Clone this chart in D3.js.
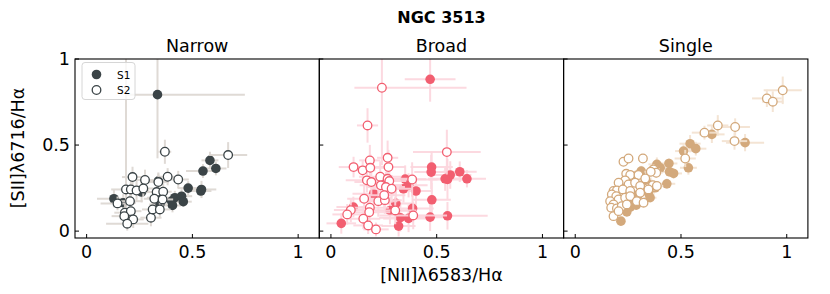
<!DOCTYPE html>
<html>
<head>
<meta charset="utf-8">
<script src="https://cdn.jsdelivr.net/npm/d3@7"></script>
<style>
  body { margin: 0; background: #fff; }
  text { font-family: "DejaVu Sans", sans-serif; }
</style>
</head>
<body>
<div id="cont"></div>
<script>
// [x, y, xerr, yerr]; err is a number or [lo, hi]
var narrowS1 = [
  [0.335, 0.793, [0.145, 0.413], 0.37], [0.583, 0.411, 0.04, 0.05], [0.550, 0.349, 0.08, 0.04],
  [0.611, 0.364, 0.05, 0.04], [0.480, 0.250, 0.05, 0.04], [0.543, 0.242, 0.07, 0.05],
  [0.540, 0.233, 0.05, 0.03], [0.129, 0.188, 0.08, 0.05], [0.173, 0.165, 0.06, 0.05],
  [0.260, 0.227, 0.07, 0.06], [0.339, 0.291, 0.05, 0.05], [0.402, 0.174, 0.04, 0.04],
  [0.417, 0.194, 0.04, 0.04], [0.449, 0.203, 0.05, 0.04], [0.457, 0.171, 0.04, 0.03],
  [0.406, 0.149, 0.04, 0.04], [0.346, 0.155, 0.05, 0.04], [0.335, 0.194, 0.05, 0.05]
];
var narrowS2 = [
  [0.370, 0.461, 0.03, 0.07], [0.669, 0.442, 0.09, 0.075], [0.217, 0.314, 0.05, 0.06],
  [0.276, 0.297, 0.05, 0.06], [0.339, 0.285, 0.05, 0.05], [0.383, 0.316, 0.04, 0.05],
  [0.433, 0.300, 0.05, 0.05], [0.186, 0.242, 0.07, [0.16, 0.8]], [0.209, 0.242, 0.05, 0.05],
  [0.236, 0.236, 0.06, 0.06], [0.268, 0.248, 0.05, 0.05], [0.331, 0.227, 0.06, 0.05],
  [0.362, 0.229, 0.04, 0.05], [0.146, 0.161, 0.08, 0.04], [0.205, 0.174, 0.06, 0.06],
  [0.320, 0.188, 0.05, 0.05], [0.359, 0.184, 0.05, 0.04], [0.181, 0.107, 0.05, 0.05],
  [0.209, 0.116, 0.05, 0.06], [0.178, 0.087, 0.06, 0.05], [0.220, 0.068, 0.05, 0.05],
  [0.192, 0.043, 0.10, 0.04], [0.304, 0.078, 0.05, 0.05], [0.312, 0.126, 0.05, 0.05],
  [0.346, 0.126, 0.05, 0.05]
];
var broadS1 = [
  [0.469, 0.882, 0.12, 0.13], [0.476, 0.372, 0.10, 0.09], [0.474, 0.343, 0.08, 0.10],
  [0.609, 0.345, 0.08, 0.06], [0.564, 0.326, 0.10, 0.08], [0.551, 0.300, 0.09, 0.12],
  [0.540, 0.304, 0.08, 0.07], [0.643, 0.304, 0.09, 0.05], [0.351, 0.302, 0.10, 0.08],
  [0.343, 0.246, 0.08, 0.08], [0.367, 0.266, 0.09, 0.07], [0.402, 0.233, 0.08, 0.08],
  [0.202, 0.217, 0.10, 0.10], [0.477, 0.182, 0.09, 0.10], [0.307, 0.161, 0.08, 0.08],
  [0.279, 0.120, 0.10, 0.08], [0.386, 0.132, 0.10, 0.08], [0.328, 0.078, 0.10, 0.08],
  [0.367, 0.074, 0.12, 0.08], [0.469, 0.081, 0.10, 0.08], [0.551, 0.089, 0.19, 0.08],
  [0.320, 0.029, 0.08, 0.06], [0.106, 0.140, 0.08, 0.06], [0.049, 0.045, 0.07, 0.06]
];
var broadS2 = [
  [0.241, 0.833, [0.13, 0.40], [0.45, 0.3]], [0.173, 0.614, 0.05, 0.10], [0.548, 0.459, 0.16, 0.13],
  [0.268, 0.426, 0.05, 0.10], [0.184, 0.411, 0.05, 0.09], [0.272, 0.372, 0.08, 0.10],
  [0.107, 0.372, 0.07, 0.06], [0.150, 0.353, 0.06, 0.06], [0.186, 0.368, 0.08, 0.08],
  [0.170, 0.295, 0.10, 0.07], [0.191, 0.285, 0.08, 0.08], [0.233, 0.316, 0.10, 0.09],
  [0.268, 0.304, 0.10, 0.08], [0.276, 0.291, 0.08, 0.07], [0.236, 0.266, 0.10, 0.08],
  [0.260, 0.256, 0.09, 0.09], [0.287, 0.246, 0.10, 0.08], [0.384, 0.300, 0.12, 0.10],
  [0.157, 0.188, 0.08, 0.08], [0.224, 0.174, 0.09, 0.09], [0.255, 0.180, 0.08, 0.08],
  [0.252, 0.209, 0.10, 0.08], [0.184, 0.136, 0.09, 0.08], [0.181, 0.110, 0.10, 0.09],
  [0.094, 0.122, 0.08, 0.07], [0.077, 0.097, 0.07, 0.06], [0.304, 0.120, 0.10, 0.08],
  [0.389, 0.091, 0.16, 0.08], [0.153, 0.072, 0.08, 0.06], [0.176, 0.033, 0.07, 0.05],
  [0.213, 0.010, 0.06, 0.04]
];
var singleS1 = [
  [0.216, 0.058, 0.02, 0.02], [0.244, 0.112, 0.02, 0.02], [0.260, 0.140, 0.02, 0.02],
  [0.288, 0.151, 0.02, 0.02], [0.272, 0.174, 0.02, 0.02], [0.299, 0.213, 0.02, 0.02],
  [0.346, 0.223, 0.03, 0.02], [0.378, 0.252, 0.03, 0.02], [0.433, 0.275, 0.04, 0.03],
  [0.283, 0.320, 0.02, 0.02], [0.335, 0.295, 0.03, 0.02], [0.312, 0.349, 0.03, 0.03],
  [0.386, 0.388, 0.04, 0.04], [0.446, 0.345, 0.04, 0.03], [0.465, 0.335, 0.04, 0.03],
  [0.443, 0.393, 0.04, 0.03], [0.535, 0.368, 0.04, 0.04], [0.512, 0.465, 0.04, 0.04],
  [0.543, 0.508, 0.05, 0.05], [0.570, 0.479, 0.05, 0.04], [0.646, 0.562, 0.06, 0.05],
  [0.803, 0.514, 0.09, 0.05], [0.402, 0.368, 0.03, 0.03], [0.354, 0.194, 0.03, 0.02]
];
var singleS2 = [
  [0.228, 0.403, 0.02, 0.02], [0.252, 0.422, 0.02, 0.02], [0.320, 0.422, 0.02, 0.02],
  [0.370, 0.359, 0.03, 0.03], [0.383, 0.339, 0.03, 0.03], [0.357, 0.345, 0.03, 0.03],
  [0.241, 0.333, 0.02, 0.02], [0.260, 0.326, 0.02, 0.02], [0.299, 0.326, 0.02, 0.02],
  [0.331, 0.306, 0.03, 0.02], [0.236, 0.295, 0.02, 0.02], [0.205, 0.281, 0.02, 0.02],
  [0.252, 0.271, 0.02, 0.02], [0.283, 0.281, 0.02, 0.02], [0.307, 0.262, 0.02, 0.02],
  [0.367, 0.267, 0.03, 0.02], [0.386, 0.262, 0.03, 0.02], [0.181, 0.233, 0.02, 0.02],
  [0.197, 0.236, 0.02, 0.02], [0.225, 0.242, 0.02, 0.02], [0.260, 0.233, 0.02, 0.02],
  [0.307, 0.223, 0.02, 0.02], [0.346, 0.242, 0.03, 0.02], [0.173, 0.213, 0.02, 0.02],
  [0.194, 0.203, 0.02, 0.02], [0.205, 0.184, 0.02, 0.02], [0.236, 0.194, 0.02, 0.02],
  [0.260, 0.203, 0.02, 0.02], [0.291, 0.174, 0.02, 0.02], [0.323, 0.165, 0.02, 0.02],
  [0.165, 0.174, 0.02, 0.02], [0.181, 0.155, 0.02, 0.02], [0.170, 0.136, 0.02, 0.02],
  [0.197, 0.132, 0.02, 0.02], [0.220, 0.145, 0.02, 0.02], [0.244, 0.155, 0.02, 0.02],
  [0.181, 0.087, 0.02, 0.02], [0.205, 0.116, 0.02, 0.02], [0.981, 0.818, 0.09, 0.08],
  [0.906, 0.771, 0.07, 0.05], [0.934, 0.752, 0.05, 0.06], [0.674, 0.614, 0.05, 0.06],
  [0.611, 0.572, 0.06, 0.04], [0.756, 0.605, 0.07, 0.05], [0.753, 0.523, 0.06, 0.05],
  [0.520, 0.422, 0.05, 0.05]
];

var panelTitles = ["Narrow", "Broad", "Single"];
var xTicks = [0, 0.5, 1];
var yTicks = [0, 0.5, 1];
var seriesNames = ["S1", "S2"];

var panels = [
  {title: panelTitles[0], s1: narrowS1, s2: narrowS2, col: "#3b4447", err: "#dcd6d1"},
  {title: panelTitles[1], s1: broadS1, s2: broadS2, col: "#f25f70", err: "#fcd5dd"},
  {title: panelTitles[2], s1: singleS1, s2: singleS2, col: "#d3a97c", err: "#f3e2d0"}
];

var W = 830, H = 294;
var left0 = 75, pw = 244.3, topY = 59, bottomY = 238;

var svg = d3.select("#cont").append("svg")
  .attr("width", W).attr("height", H);

svg.append("text").attr("x", 441.5).attr("y", 23)
  .attr("text-anchor", "middle").attr("font-weight", "bold")
  .attr("font-size", 16).text("NGC 3513");

svg.append("text").attr("x", 441.5).attr("y", 281)
  .attr("text-anchor", "middle").attr("font-size", 17.5)
  .text("[NII]λ6583/Hα");

svg.append("text").attr("transform", "translate(24,148) rotate(-90)")
  .attr("text-anchor", "middle").attr("font-size", 17.5)
  .text("[SII]λ6716/Hα");

function lo(e) { return Array.isArray(e) ? e[0] : e; }
function hi(e) { return Array.isArray(e) ? e[1] : e; }

panels.forEach(function(p, i) {
  var x0 = left0 + i * pw;
  var x = d3.scaleLinear().domain([-0.055, 1.1]).range([x0, x0 + pw]);
  var y = d3.scaleLinear().domain([-0.04, 1.0]).range([bottomY, topY]);

  var g = svg.append("g");
  svg.append("clipPath").attr("id", "clip" + i).append("rect")
    .attr("x", x0).attr("y", topY).attr("width", pw).attr("height", bottomY - topY);

  var plot = g.append("g").attr("clip-path", "url(#clip" + i + ")");

  [p.s1, p.s2].forEach(function(data, k) {
    var eb = plot.append("g").attr("stroke", p.err).attr("stroke-width", 2).attr("opacity", 0.9);
    eb.selectAll("line.h").data(data).enter().append("line")
      .attr("x1", function(d) { return x(d[0] - lo(d[2])); })
      .attr("x2", function(d) { return x(d[0] + hi(d[2])); })
      .attr("y1", function(d) { return y(d[1]); })
      .attr("y2", function(d) { return y(d[1]); });
    eb.selectAll("line.v").data(data).enter().append("line")
      .attr("x1", function(d) { return x(d[0]); })
      .attr("x2", function(d) { return x(d[0]); })
      .attr("y1", function(d) { return y(d[1] - lo(d[3])); })
      .attr("y2", function(d) { return y(d[1] + hi(d[3])); });
    plot.append("g").selectAll("circle").data(data).enter().append("circle")
      .attr("cx", function(d) { return x(d[0]); })
      .attr("cy", function(d) { return y(d[1]); })
      .attr("r", k == 0 ? 4.8 : 4.3)
      .style("fill", k == 0 ? p.col : "#fff")
      .style("stroke", p.col)
      .style("stroke-width", k == 0 ? 0 : 1.3);
  });

  // ticks inward
  g.selectAll("line.xt").data(xTicks).enter().append("line")
    .attr("x1", function(d) { return x(d); }).attr("x2", function(d) { return x(d); })
    .attr("y1", bottomY).attr("y2", bottomY - 4)
    .attr("stroke", "#000").attr("stroke-width", 1);
  g.selectAll("line.yt").data(yTicks).enter().append("line")
    .attr("x1", x0).attr("x2", x0 + 4)
    .attr("y1", function(d) { return y(d); }).attr("y2", function(d) { return y(d); })
    .attr("stroke", "#000").attr("stroke-width", 1);

  g.selectAll("text.xl").data(xTicks).enter().append("text")
    .attr("x", function(d) { return x(d); }).attr("y", bottomY + 20)
    .attr("text-anchor", "middle").attr("font-size", 17.5)
    .text(function(d) { return d3.format("")(d); });

  if (i == 0) {
    g.selectAll("text.yl").data(yTicks).enter().append("text")
      .attr("x", x0 - 5).attr("y", function(d) { return y(d) + 6; })
      .attr("text-anchor", "end").attr("font-size", 17.5)
      .text(function(d) { return d3.format("")(d); });
  }

  g.append("rect").attr("x", x0).attr("y", topY).attr("width", pw).attr("height", bottomY - topY)
    .attr("fill", "none").attr("stroke", "#000").attr("stroke-width", 1.1);

  g.append("text").attr("x", x0 + pw / 2).attr("y", 52)
    .attr("text-anchor", "middle").attr("font-size", 17.5).text(p.title);

  if (i == 0) {
    var lg = g.append("g");
    lg.append("rect").attr("x", 82).attr("y", 62.5).attr("width", 53).attr("height", 37)
      .attr("rx", 3).attr("fill", "#fff").attr("fill-opacity", 0.8)
      .attr("stroke", "#d6d6d6").attr("stroke-width", 1);
    seriesNames.forEach(function(s, k) {
      var yy = 74.5 + k * 15.5;
      lg.append("circle").attr("cx", 96.5).attr("cy", yy).attr("r", k == 0 ? 4.8 : 4.3)
        .style("fill", k == 0 ? p.col : "#fff").style("stroke", p.col)
        .style("stroke-width", k == 0 ? 0 : 1.3);
      lg.append("text").attr("x", 117).attr("y", yy + 4).attr("font-size", 10.5).text(s);
    });
  }
});
</script>
</body>
</html>
